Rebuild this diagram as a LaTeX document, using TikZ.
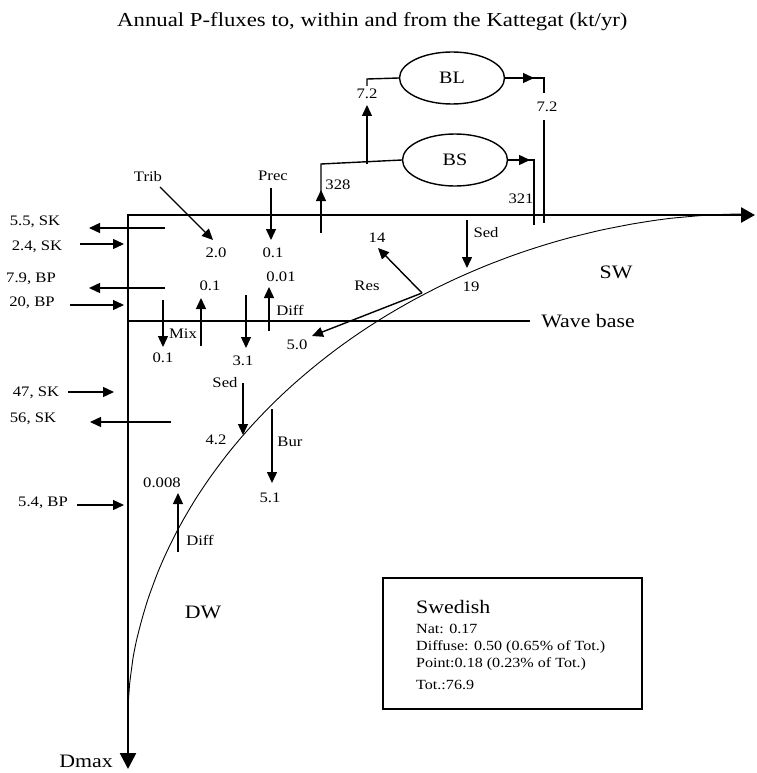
\documentclass[tikz,border=0pt]{standalone}
\usepackage{fontspec}
\setmainfont[FakeStretch=1.15]{Liberation Serif}
\usetikzlibrary{arrows.meta,shapes.geometric}
\begin{document}
\begin{tikzpicture}[x=1pt,y=-1pt,
  fl/.style={line width=1.4pt},
  arr/.style={line width=1.4pt,-{Triangle[length=11pt,width=10pt]}},
  lab/.style={font=\fontsize{14.5}{15}\selectfont, inner sep=0pt},
  big/.style={font=\fontsize{19}{20}\selectfont, inner sep=0pt},
  small/.style={font=\fontsize{14}{15}\selectfont, inner sep=0pt, anchor=west},
  basin/.style={ellipse, draw, line width=1.4pt, minimum width=105pt, minimum height=52pt, inner sep=0pt, font=\fontsize{17.5}{18}\selectfont},
]
\useasboundingbox[fill=white] (0,0) rectangle (756,773);

% title
\node[font=\fontsize{19.8}{20}\selectfont, inner sep=0pt, anchor=base west] (title) at (117,27) {Annual P-fluxes to, within and from the Kattegat (kt/yr)};

% axes
\coordinate (O) at (128,215);
\coordinate (Xend) at (755,215);
\coordinate (Yend) at (128,769);
\draw[line width=2.6pt, {Triangle[length=14pt,width=15pt]}-{Triangle[length=16pt,width=16pt]}] (Xend) -- (O) -- (Yend);
\node[big, anchor=base] (dmax) at (86,767) {Dmax};

% wave base
\coordinate (wb0) at (128,321);
\coordinate (wb1) at (530,321);
\draw[fl] (wb0) -- (wb1);
\node[big] (wave) at (588,321) {Wave base};
\node[big] (sw) at (616,272) {SW};
\node[big] (dw) at (203,612) {DW};

% sediment boundary curve (superellipse)
\draw[line width=0.9pt] plot[domain=0.2:89.8, samples=90, smooth, variable=\t]
  ({745-617*pow(cos(\t),1.04)}, {717-503*pow(sin(\t),1.04)});

% left boundary fluxes
\coordinate (a1s) at (165,228); \coordinate (a1e) at (89,228);
\draw[arr] (a1s) -- (a1e); \node[lab] (l1) at (35,222) {5.5, SK};
\coordinate (a2s) at (80,244); \coordinate (a2e) at (124,244);
\draw[arr] (a2s) -- (a2e); \node[lab] (l2) at (37,247) {2.4, SK};
\coordinate (a3s) at (165,288); \coordinate (a3e) at (89,288);
\draw[arr] (a3s) -- (a3e); \node[lab] (l3) at (31,279) {7.9, BP};
\coordinate (a4s) at (70,305); \coordinate (a4e) at (124,305);
\draw[arr] (a4s) -- (a4e); \node[lab] (l4) at (32,303) {20, BP};
\coordinate (a5s) at (68,392); \coordinate (a5e) at (114,392);
\draw[arr] (a5s) -- (a5e); \node[lab] (l5) at (36,393) {47, SK};
\coordinate (a6s) at (171,422); \coordinate (a6e) at (90,422);
\draw[arr] (a6s) -- (a6e); \node[lab] (l6) at (33,419) {56, SK};
\coordinate (a7s) at (77,505); \coordinate (a7e) at (124,505);
\draw[arr] (a7s) -- (a7e); \node[lab] (l7) at (43,503) {5.4, BP};

% Trib and Prec
\node[lab] (trib) at (148,177) {Trib};
\coordinate (tribs) at (160,187); \coordinate (tribe) at (213,240);
\draw[arr] (tribs) -- (tribe); \node[lab] (tribv) at (216,253) {2.0};
\node[lab] (prec) at (273,176) {Prec};
\coordinate (precs) at (271,188); \coordinate (prece) at (271,240);
\draw[arr] (precs) -- (prece); \node[lab] (precv) at (273,253) {0.1};

% Baltic exchange
\node[basin] (BL) at (452,78) {BL};
\node[basin] (BS) at (455,160) {BS};
\coordinate (o1) at (321,233); \coordinate (o2) at (321,190); \coordinate (o3) at (321,164);
\draw[arr] (o1) -- (o2);
\draw[fl] (321,192) -- (o3) -- (BS.west);
\node[lab] (v328) at (338,185) {328};
\coordinate (b1) at (367,164); \coordinate (b2) at (367,105); \coordinate (b3) at (367,86); \coordinate (b4) at (367,79);
\draw[arr] (b1) -- (b2);
\node[lab] (v72a) at (367,94) {7.2};
\draw[fl] (b3) -- (b4) -- (BL.west);
\coordinate (c1) at (534,78); \coordinate (c2) at (544,78); \coordinate (c3) at (544,93); \coordinate (c4) at (544,120); \coordinate (c5) at (544,223);
\draw[arr] (BL.east) -- (c1);
\draw[fl] (532,78) -- (c2) -- (c3);
\node[lab] (v72b) at (547,107) {7.2};
\draw[fl] (c4) -- (c5);
\coordinate (d1) at (530,160); \coordinate (d2) at (534,160); \coordinate (d3) at (534,225);
\draw[arr] (BS.east) -- (d1);
\draw[fl] (528,160) -- (d2) -- (d3);
\node[lab] (v321) at (521,199) {321};

% surface sedimentation and resuspension
\coordinate (s1) at (467,220); \coordinate (s2) at (467,268);
\draw[arr] (s1) -- (s2);
\node[lab] (sed1) at (486,233) {Sed};
\node[lab] (v19) at (471,287) {19};
\coordinate (R) at (422,293); \coordinate (r1) at (378,248); \coordinate (r2) at (312,336);
\draw[arr] (R) -- (r1);
\draw[arr] (R) -- (r2);
\node[lab] (v14) at (377,238) {14};
\node[lab] (res) at (367,286) {Res};
\node[lab] (v50) at (297,345) {5.0};

% diffusion and mixing
\coordinate (df1) at (269,331); \coordinate (df2) at (269,287);
\draw[arr] (df1) -- (df2);
\node[lab] (v001) at (281,277) {0.01};
\node[lab] (diff1) at (290,310) {Diff};
\coordinate (m1) at (163,300); \coordinate (m2) at (163,347);
\draw[arr] (m1) -- (m2);
\node[lab] (vm1) at (163,358) {0.1};
\node[lab] (mix) at (183,334) {Mix};
\coordinate (m3) at (201,346); \coordinate (m4) at (201,298);
\draw[arr] (m3) -- (m4);
\node[lab] (vm2) at (210,286) {0.1};
\coordinate (m5) at (246,295); \coordinate (m6) at (246,348);
\draw[arr] (m5) -- (m6);
\node[lab] (v31) at (243,361) {3.1};

% deep water
\node[lab] (sed2) at (225,383) {Sed};
\coordinate (e1) at (243,383); \coordinate (e2) at (243,435);
\draw[arr] (e1) -- (e2);
\node[lab] (v42) at (216,440) {4.2};
\coordinate (u1) at (272,409); \coordinate (u2) at (272,483);
\draw[arr] (u1) -- (u2);
\node[lab] (bur) at (290,442) {Bur};
\node[lab] (v51) at (270,498) {5.1};
\coordinate (f1) at (178,552); \coordinate (f2) at (178,493);
\draw[arr] (f1) -- (f2);
\node[lab] (v008) at (162,483) {0.008};
\node[lab] (diff2) at (200,540) {Diff};

% Swedish box
\draw[line width=1.3pt] (383,578) rectangle (642,709);
\node[small, font=\fontsize{19}{20}\selectfont] (swe) at (416,607) {Swedish};
\node[small] (nat) at (416,629) {Nat: 0.17};
\node[small] (dif) at (416,647) {Diffuse: 0.50 (0.65\% of Tot.)};
\node[small] (pnt) at (416,664) {Point:0.18 (0.23\% of Tot.)};
\node[small] (tot) at (416,685) {Tot.:76.9};
\end{tikzpicture}
\end{document}
